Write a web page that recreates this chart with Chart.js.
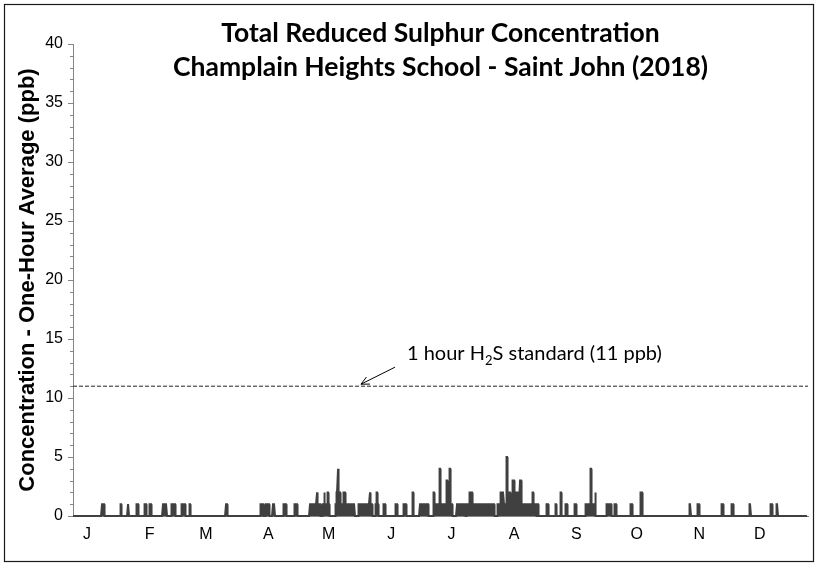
<!DOCTYPE html>
<html>
<head>
<meta charset="utf-8">
<script src="https://cdn.jsdelivr.net/npm/chart.js@4.4.1/dist/chart.umd.min.js"></script>
<style>
  html, body { margin: 0; padding: 0; background: #fff; }
  #wrap { width: 818px; height: 566px; }
</style>
</head>
<body>
<div id="wrap"><canvas id="chart" width="818" height="566"></canvas></div>
<script>
// TRS one-hour averages, Champlain Heights School, 2018.
// Readings are 0 ppb outside the episodes below ([startDay, endDay], day of year).
const titleLines = [
  'Total Reduced Sulphur Concentration',
  'Champlain Heights School - Saint John (2018)',
];
const yTitle = 'Concentration - One-Hour Average (ppb)';
const monthLabels = ['J', 'F', 'M', 'A', 'M', 'J', 'J', 'A', 'S', 'O', 'N', 'D'];
const monthStartDays = [0, 31, 59, 90, 120, 151, 181, 212, 243, 273, 304, 334];
const standardPpb = 11;

const episodes1ppb = [
  [14.4, 15.7], [23.8, 24.2], [27.3, 27.8], [31.3, 32.3], [35.3, 36.6], [38.2, 38.9],
  [44.7, 46.7], [48.7, 50.7], [54.1, 56.0], [58.0, 58.4], [76.0, 76.8],
  [92.9, 94.4], [95.8, 97.5], [99.3, 100.3], [104.3, 105.8], [110.1, 111.6],
  [117.7, 122.7], [123.8, 127.4], [130.3, 140.0], [141.9, 148.6], [150.1, 151.5],
  [154.3, 155.3], [160.1, 161.0], [164.0, 165.7], [168.4, 169.3], [172.3, 176.4],
  [179.1, 188.4], [190.7, 195.0], [195.6, 209.1], [210.6, 230.0], [230.8, 231.2],
  [235.0, 236.0], [239.5, 240.2], [242.3, 242.8], [244.7, 245.7], [249.0, 250.1],
  [254.4, 259.7], [264.8, 267.5], [269.0, 270.0], [276.8, 277.7], [281.6, 282.9],
  [306.3, 306.9], [310.2, 311.2], [322.1, 322.8], [327.1, 327.8], [336.1, 336.7],
  [346.6, 347.3], [349.5, 350.1],
];
const episodes2ppb = [
  [121.2, 121.5], [124.7, 125.0], [126.6, 127.0], [131.0, 132.9], [134.4, 135.4],
  [147.5, 147.8], [150.6, 151.0], [168.4, 169.3], [179.1, 179.6], [196.8, 198.3],
  [212.5, 214.0], [216.9, 217.4], [220.1, 221.0], [228.4, 228.9], [242.3, 242.8],
  [259.4, 259.7], [281.6, 282.9],
];
const episodes3ppb = [[185.7, 186.1], [218.4, 219.1], [222.0, 222.5]];
const episodes4ppb = [[131.6, 131.9], [181.9, 182.6], [187.1, 187.6], [257.2, 257.6]];
const episodes5ppb = [[215.4, 215.9]];

const annotationDay = 143;
const labelOffsetDays = 7;

const levels = [
  [1, episodes1ppb],
  [2, episodes2ppb],
  [3, episodes3ppb],
  [4, episodes4ppb],
  [5, episodes5ppb],
];

const hourly = [];
for (let h = 0; h < 365 * 24; h++) {
  const day = h / 24;
  let ppb = 0;
  levels.forEach(([level, list]) => {
    if (list.some(([a, b]) => day >= a && day <= b)) ppb = Math.max(ppb, level);
  });
  hourly.push({ x: day, y: ppb });
}

const decorations = {
  id: 'decorations',
  beforeDraw(chart) {
    const { ctx, width, height } = chart;
    ctx.save();
    ctx.fillStyle = '#fff';
    ctx.fillRect(0, 0, width, height);
    ctx.restore();
  },
  afterDraw(chart) {
    const { ctx, chartArea, scales: { x, y } } = chart;
    ctx.save();

    // minor ticks on the value axis
    ctx.strokeStyle = '#868686';
    ctx.lineWidth = 1;
    for (let v = 0; v <= 40; v++) {
      if (v % 5 === 0) continue;
      const py = Math.round(y.getPixelForValue(v)) + 0.5;
      ctx.beginPath();
      ctx.moveTo(chartArea.left - 3, py);
      ctx.lineTo(chartArea.left, py);
      ctx.stroke();
    }

    // title
    ctx.fillStyle = '#000';
    ctx.font = 'bold 26.5px Lato';
    ctx.textAlign = 'center';
    ctx.textBaseline = 'middle';
    const cx = (chartArea.left + chartArea.right) / 2;
    titleLines.forEach((t, i) => ctx.fillText(t, cx, 33 + i * 34));

    // arrow pointing at the standard line
    const tipX = x.getPixelForValue(annotationDay);
    const tipY = y.getPixelForValue(standardPpb) - 2;
    const tailX = tipX + 34, tailY = tipY - 17;
    const ang = Math.atan2(tailY - tipY, tailX - tipX);
    ctx.strokeStyle = '#000';
    ctx.lineWidth = 1;
    ctx.beginPath();
    ctx.moveTo(tailX, tailY);
    ctx.lineTo(tipX, tipY);
    ctx.moveTo(tipX + 9 * Math.cos(ang - 0.45), tipY + 9 * Math.sin(ang - 0.45));
    ctx.lineTo(tipX, tipY);
    ctx.lineTo(tipX + 9 * Math.cos(ang + 0.45), tipY + 9 * Math.sin(ang + 0.45));
    ctx.stroke();

    // annotation text with subscript
    ctx.textAlign = 'left';
    ctx.textBaseline = 'alphabetic';
    let tx = tailX + 12;
    const ty = tailY - 7;
    const parts = [['1 hour H', 0, '20px Lato'], ['2', 5, '13px Lato'], ['S standard (11 ppb)', 0, '20px Lato']];
    parts.forEach(([t, dy, f]) => {
      ctx.font = f;
      ctx.fillText(t, tx, ty + dy);
      tx += ctx.measureText(t).width;
    });

    // outer frame
    ctx.strokeStyle = '#1a1a1a';
    ctx.lineWidth = 1.2;
    ctx.strokeRect(4.5, 4.5, chart.width - 9, chart.height - 9);
    ctx.restore();
  },
};

new Chart(document.getElementById('chart'), {
  type: 'line',
  data: {
    datasets: [
      {
        label: 'TRS',
        data: hourly,
        parsing: false,
        normalized: true,
        borderColor: '#404040',
        backgroundColor: '#404040',
        fill: 'origin',
        borderWidth: 2,
        pointRadius: 0,
        tension: 0,
        clip: 3,
      },
      {
        label: 'H2S standard',
        data: [{ x: 0, y: standardPpb }, { x: 365, y: standardPpb }],
        parsing: false,
        borderColor: '#222',
        borderWidth: 1,
        borderDash: [4, 2],
        pointRadius: 0,
      },
    ],
  },
  options: {
    responsive: false,
    animation: false,
    devicePixelRatio: 1,
    layout: { padding: { left: 0, right: 10, top: 44, bottom: 0 } },
    plugins: {
      legend: { display: false },
      tooltip: { enabled: false },
      title: { display: false },
      filler: { propagate: false },
    },
    scales: {
      x: {
        type: 'linear',
        min: 0,
        max: 365,
        afterFit: s => { s.height = 50; },
        afterBuildTicks: s => {
          s.ticks = monthStartDays.map(d => ({ value: d + labelOffsetDays }));
        },
        grid: { display: false, drawTicks: false },
        border: { display: true, color: '#868686' },
        ticks: {
          autoSkip: false,
          maxRotation: 0,
          padding: 9,
          color: '#000',
          font: { family: "'Liberation Sans Narrow', 'Liberation Sans', Arial", size: 16 },
          callback: (v, i) => monthLabels[i],
        },
      },
      y: {
        min: 0,
        max: 40,
        afterFit: s => { s.width = 73; },
        grid: { display: true, drawOnChartArea: false, drawTicks: true, tickLength: 5, color: '#868686' },
        border: { display: true, color: '#868686' },
        ticks: {
          stepSize: 5,
          padding: 5,
          color: '#000',
          font: { family: "'Liberation Sans', Arial", size: 16 },
        },
        title: {
          display: true,
          text: yTitle,
          color: '#000',
          font: { family: "'Liberation Sans', Arial", size: 22, weight: 'bold' },
          padding: { top: 15, bottom: 0 },
        },
      },
    },
  },
  plugins: [decorations],
});
</script>
</body>
</html>
